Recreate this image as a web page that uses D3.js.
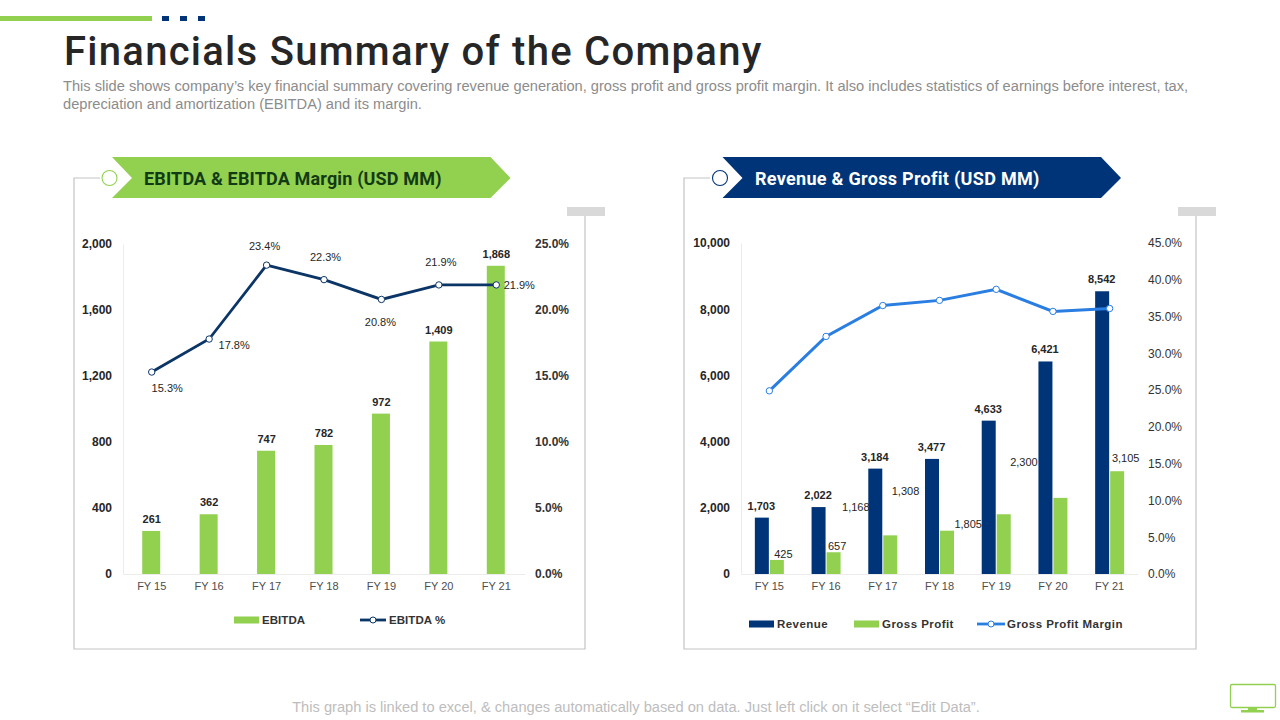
<!DOCTYPE html>
<html><head><meta charset="utf-8">
<script src="https://cdn.jsdelivr.net/npm/d3@7"></script>
<style>
html,body{margin:0;padding:0;background:#fff}
svg{display:block}
text{font-family:"Liberation Sans",Arial,sans-serif}
</style></head><body>
<svg id="c" width="1280" height="720"></svg>
<script>
const years = ["FY 15","FY 16","FY 17","FY 18","FY 19","FY 20","FY 21"];
const ebitda = [261,362,747,782,972,1409,1868];
const ebitdaPct = [15.3,17.8,23.4,22.3,20.8,21.9,21.9];
const revenue = [1703,2022,3184,3477,4633,6421,8542];
const grossProfit = [425,657,1168,1308,1805,2300,3105];
const grossMargin = [24.9,32.3,36.5,37.2,38.7,35.7,36.1];
const leftTicks = [0,400,800,1200,1600,2000];
const leftPctTicks = [0,5,10,15,20,25];
const rightTicks = [0,2000,4000,6000,8000,10000];
const rightPctTicks = [0,5,10,15,20,25,30,35,40,45];
const titleText = "Financials Summary of the Company";
const subtitleLines = ["This slide shows company\u2019s key financial summary covering revenue generation,  gross profit and gross profit margin. It also includes statistics of earnings before interest, tax,","depreciation and amortization (EBITDA) and its margin."];
const footerText = "This graph is linked to excel, & changes automatically based on data. Just left click on it select \u201cEdit Data\u201d.";

const pctNudge = [[15.5,16],[25,6],[-2,-19],[1.5,-22.6],[-1,22.6],[2,-23],[23,0]];
const gpNudge = [[6,-6],[3,-6],[-35,-28],[-42,-40],[-36,10],[-37,-36],[8,-13]];

const GREEN="#92d050", NAVY="#003478", DARK="#0b3566", BLUE="#2a7de1";
const svg=d3.select("#c");
const fmt=d3.format(",");

// header
svg.append("rect").attr("x",0).attr("y",16).attr("width",152).attr("height",5).attr("fill",GREEN);
[162,180,198].forEach(x=>svg.append("rect").attr("x",x).attr("y",16).attr("width",7).attr("height",5).attr("fill",NAVY));
svg.append("text").attr("x",64).attr("y",65).text(titleText)
  .style("font-family","Roboto").style("font-weight",500).style("font-size","40px").style("letter-spacing","1.27px").attr("fill","#262626");
subtitleLines.forEach((t,i)=>svg.append("text").attr("x",63).attr("y",91+i*18).text(t)
  .attr("fill","#8c8c8c").style("font-size","14.65px"));
svg.append("text").attr("x",636).attr("y",712).attr("text-anchor","middle").text(footerText)
  .attr("fill","#bdbdbd").style("font-size","14.65px");

// monitor icon
const ic=svg.append("g");
ic.append("rect").attr("x",1230.5).attr("y",684.5).attr("width",45).attr("height",23).attr("rx",1.5).attr("fill","#fff").attr("stroke",GREEN).attr("stroke-width",1.3);
ic.append("rect").attr("x",1248).attr("y",708).attr("width",9).attr("height",3).attr("fill",GREEN);
ic.append("rect").attr("x",1241).attr("y",710).attr("width",23).attr("height",2.5).attr("fill",GREEN);

function panel(o){
  const g=svg.append("g");
  g.append("path").attr("d",`M${o.fx0+26},${o.cy}H${o.fx0}V649H${o.fx1}V215`).attr("fill","none").attr("stroke","#c4c4c4").attr("stroke-width",1.2);
  g.append("rect").attr("x",o.fx1-18).attr("y",207).attr("width",38).attr("height",9).attr("fill","#d9d9d9");
  const a=o.ax, b=o.ax+378.5, c=o.ax+398.5, n=o.ax+20;
  g.append("polygon").attr("points",`${a},157 ${b},157 ${c},178 ${b},198 ${a},198 ${n},178`).attr("fill",o.color);
  g.append("circle").attr("cx",o.ax-2.5).attr("cy",178).attr("r",7.5).attr("fill","#fff").attr("stroke",o.color).attr("stroke-width",1.1);
  g.append("text").attr("x",o.tx).attr("y",185).text(o.title).attr("fill",o.tcolor)
    .style("font-family","Roboto").style("font-weight",700).style("font-size","18px").style("letter-spacing",o.ls);
}
panel({fx0:74,fx1:585,cy:178,ax:112,color:GREEN,tcolor:"#123a14",tx:144,ls:"0.16px",title:"EBITDA & EBITDA Margin (USD MM)"});
panel({fx0:684,fx1:1196,cy:178,ax:722.5,color:NAVY,tcolor:"#fff",tx:755,ls:"0.3px",title:"Revenue & Gross Profit (USD MM)"});

function axes(xS,yL,yR,lT,rT,x0,x1,xr,leftW,rightW){
  const g=svg.append("g");
  const ax=g.append("g").attr("transform",`translate(${x0},0)`)
    .call(d3.axisLeft(yL).tickValues(lT).tickSize(0).tickPadding(11).tickFormat(fmt));
  ax.select(".domain").attr("stroke","#ececec");
  ax.selectAll("text").attr("fill","#262626").style("font-size","12px").style("font-weight",leftW).style("font-family","Liberation Sans");
  const ar=g.append("g").attr("transform",`translate(${xr},0)`)
    .call(d3.axisRight(yR).tickValues(rT).tickSize(0).tickPadding(0).tickFormat(d=>d.toFixed(1)+"%"));
  ar.select(".domain").remove();
  ar.selectAll("text").attr("fill","#333").style("font-size","12px").style("font-weight",rightW).style("font-family","Liberation Sans");
  const bx=g.append("g").attr("transform","translate(0,574)")
    .call(d3.axisBottom(xS).tickSize(0).tickPadding(8));
  bx.select(".domain").attr("stroke","#ececec");
  bx.selectAll("text").attr("fill","#4d4d4d").style("font-size","11px").style("font-family","Liberation Sans");
}

function label(sel,x,y,t,bold){
  sel.append("text").attr("x",x).attr("y",y).attr("text-anchor","middle").attr("dominant-baseline","central")
    .text(t).attr("fill","#262626").style("font-size","11px").style("font-weight",bold?"bold":"normal");
}

// left chart
{
  const x=d3.scaleBand().domain(years).range([123,525]);
  const y=d3.scaleLinear().domain([0,2000]).range([574,244]);
  const yp=d3.scaleLinear().domain([0,25]).range([574,244]);
  const cx=d=>x(d)+x.bandwidth()/2;
  axes(x,y,yp,leftTicks,leftPctTicks,123,525,535,"bold","bold");
  const g=svg.append("g");
  g.selectAll("rect").data(years).join("rect")
    .attr("x",d=>cx(d)-9.5).attr("width",18)
    .attr("y",(d,i)=>y(ebitda[i])).attr("height",(d,i)=>574-y(ebitda[i])).attr("fill",GREEN);
  years.forEach((d,i)=>label(g,cx(d),y(ebitda[i])-12,fmt(ebitda[i]),true));
  const line=d3.line().x((d,i)=>cx(years[i])).y(d=>yp(d));
  g.append("path").attr("d",line(ebitdaPct)).attr("fill","none").attr("stroke",DARK).attr("stroke-width",2.8);
  g.selectAll("circle").data(ebitdaPct).join("circle").attr("cx",(d,i)=>cx(years[i])).attr("cy",d=>yp(d)).attr("r",3.2)
    .attr("fill","#fff").attr("stroke",DARK).attr("stroke-width",1);
  ebitdaPct.forEach((d,i)=>label(g,cx(years[i])+pctNudge[i][0],yp(d)+pctNudge[i][1],d.toFixed(1)+"%",false));
}

// right chart
{
  const x=d3.scaleBand().domain(years).range([741,1138]);
  const y=d3.scaleLinear().domain([0,10000]).range([574,243]);
  const yp=d3.scaleLinear().domain([0,45]).range([574,243]);
  const cx=d=>x(d)+x.bandwidth()/2;
  axes(x,y,yp,rightTicks,rightPctTicks,741,1138,1148,"bold","normal");
  const g=svg.append("g");
  g.append("g").selectAll("rect").data(years).join("rect")
    .attr("x",d=>cx(d)-14.5).attr("width",14)
    .attr("y",(d,i)=>y(revenue[i])).attr("height",(d,i)=>574-y(revenue[i])).attr("fill",NAVY);
  g.append("g").selectAll("rect").data(years).join("rect")
    .attr("x",d=>cx(d)+0.5).attr("width",14)
    .attr("y",(d,i)=>y(grossProfit[i])).attr("height",(d,i)=>574-y(grossProfit[i])).attr("fill",GREEN);
  years.forEach((d,i)=>label(g,cx(d)-8,y(revenue[i])-12,fmt(revenue[i]),true));
  years.forEach((d,i)=>label(g,cx(d)+8+gpNudge[i][0],y(grossProfit[i])+gpNudge[i][1],fmt(grossProfit[i]),false));
  const line=d3.line().x((d,i)=>cx(years[i])).y(d=>yp(d));
  g.append("path").attr("d",line(grossMargin)).attr("fill","none").attr("stroke",BLUE).attr("stroke-width",3);
  g.selectAll("circle").data(grossMargin).join("circle").attr("cx",(d,i)=>cx(years[i])).attr("cy",d=>yp(d)).attr("r",3.2)
    .attr("fill","#fff").attr("stroke",BLUE).attr("stroke-width",1);
}

// legends
function legendText(x,y,t,ls){
  svg.append("text").attr("x",x).attr("y",y).attr("dominant-baseline","central").text(t)
    .attr("fill","#333").style("font-size","11.5px").style("font-weight","bold").style("letter-spacing",ls);
}
function swatch(x,y,c){svg.append("rect").attr("x",x).attr("y",y-3.5).attr("width",25).attr("height",7).attr("fill",c);}
function lineKey(x0,x1,y,c){
  svg.append("line").attr("x1",x0).attr("x2",x1).attr("y1",y).attr("y2",y).attr("stroke",c).attr("stroke-width",2.8);
  svg.append("circle").attr("cx",(x0+x1)/2).attr("cy",y).attr("r",3).attr("fill","#fff").attr("stroke",c).attr("stroke-width",1);
}
swatch(234,620,GREEN); legendText(262,620,"EBITDA","0.05px");
lineKey(360,386,620,DARK); legendText(389,620,"EBITDA %","0.05px");
swatch(749,624,NAVY); legendText(777,624,"Revenue","0.45px");
swatch(854,624,GREEN); legendText(882,624,"Gross Profit","0.45px");
lineKey(977,1005,624,BLUE); legendText(1007,624,"Gross Profit Margin","0.45px");
</script>
</body></html>
